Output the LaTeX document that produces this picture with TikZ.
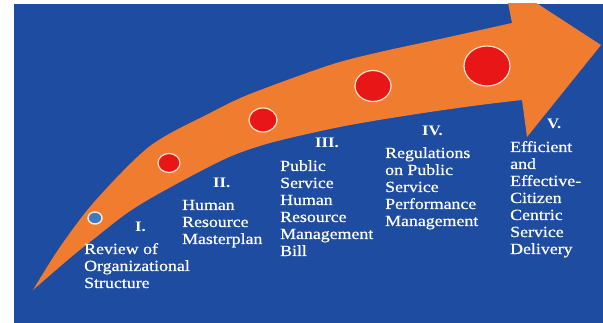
\documentclass[tikz,border=0pt]{standalone}
\usepackage{fontspec}
\setmainfont{Liberation Serif}[FakeStretch=1.15]
\newfontfamily\descfont{Liberation Serif}[FakeStretch=1.15, FakeBold=0.6]
\usetikzlibrary{shapes.geometric}
\definecolor{panelblue}{RGB}{30,76,160}
\definecolor{arroworange}{RGB}{240,124,48}
\definecolor{stepred}{RGB}{232,22,22}
\definecolor{steplight}{RGB}{62,122,192}
\definecolor{ringcol}{RGB}{255,226,205}
\begin{document}
\begin{tikzpicture}[x=1pt,y=-1pt,
  milestone/.style={ellipse, draw=ringcol, line width=1.2pt, fill=stepred, inner sep=0pt},
  numlbl/.style={text=white, inner sep=0pt, anchor=base west,
    font=\fontsize{14.5}{17}\selectfont\bfseries},
  desclbl/.style={text=white, inner sep=0pt, anchor=base west,
    font=\descfont\fontsize{15.5}{17}\selectfont}]
\useasboundingbox (0,0) rectangle (603,323);
\fill[white] (0,0) rectangle (603,323);
\begin{scope}
  \clip (14,4) rectangle (603,323);
  \fill[panelblue] (14,4) rectangle (603,323);
  % curved roadmap arrow
  \fill[arroworange]
    plot[smooth] coordinates {(33,290) (60,247) (95,201) (150,146) (210,113)
      (250,94) (330,65) (380,52) (440,39) (512,23)}
    -- (504,-18) -- (601,45) -- (527,137) -- (522,100)
    -- plot[smooth] coordinates {(522,100) (480,105) (430,112) (373,121)
      (330,129) (270,143) (227,158) (169,188) (130,211) (95,238) (70,258) (33,290)}
    -- cycle;
\end{scope}
% milestones along the arrow
\node[milestone, fill=steplight, line width=1.5pt, minimum width=14pt, minimum height=12pt] (d1) at (95,218) {};
\node[milestone, minimum width=22pt, minimum height=19pt] (d2) at (169,163) {};
\node[milestone, minimum width=28pt, minimum height=24pt] (d3) at (263,120) {};
\node[milestone, minimum width=36pt, minimum height=31pt] (d4) at (373,86) {};
\node[milestone, minimum width=46pt, minimum height=40pt] (d5) at (487,66) {};
% stage numbers
\node[numlbl] (n1) at (135,232) {I.};
\node[numlbl] (n2) at (213,188) {II.};
\node[numlbl] (n3) at (315,148) {III.};
\node[numlbl] (n4) at (422,136) {IV.};
\node[numlbl] (n5) at (547,129) {V.};
% stage descriptions
\node[desclbl] (t1) at (84,254) {\begin{tabular}[t]{@{}l@{}}Review of\\Organizational\\Structure\end{tabular}};
\node[desclbl] (t2) at (182,210) {\begin{tabular}[t]{@{}l@{}}Human\\Resource\\Masterplan\end{tabular}};
\node[desclbl] (t3) at (280,171) {\begin{tabular}[t]{@{}l@{}}Public\\Service\\Human\\Resource\\Management\\Bill\end{tabular}};
\node[desclbl] (t4) at (385,158) {\begin{tabular}[t]{@{}l@{}}Regulations\\on Public\\Service\\Performance\\Management\end{tabular}};
\node[desclbl] (t5) at (510,152) {\begin{tabular}[t]{@{}l@{}}Efficient\\and\\Effective-\\Citizen\\Centric\\Service\\Delivery\end{tabular}};
\end{tikzpicture}
\end{document}
